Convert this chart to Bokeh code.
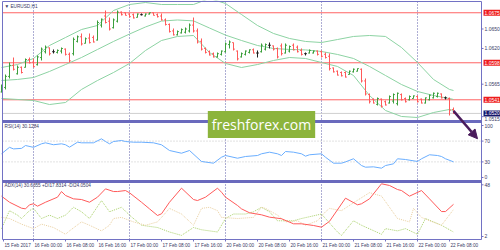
from bokeh.plotting import figure
from bokeh.models import Range1d, Label, Arrow, NormalHead, ColumnDataSource
from bokeh.embed import file_html
from bokeh.resources import INLINE

# ---------------- data ----------------
symbol_title = "\u25bc EURUSD,H1"
rsi_title = "RSI(14) 30.1284"
adx_title = "ADX(14) 30.6355 +DI17.8314 -DI24.0504"
watermark = "freshforex.com"

x_tick_idx = [0.5, 8, 16, 24, 32, 40, 48, 56, 64, 72, 80, 88, 96, 104, 112]
x_tick_labels = ["15 Feb 2017", "16 Feb 00:00", "16 Feb 08:00", "16 Feb 16:00", "17 Feb 00:00",
                 "17 Feb 08:00", "17 Feb 16:00", "20 Feb 00:00", "20 Feb 08:00", "20 Feb 16:00",
                 "21 Feb 00:00", "21 Feb 08:00", "21 Feb 16:00", "22 Feb 00:00", "22 Feb 08:00"]
day_separators = [8, 32, 56, 80, 104]

opens = [1.0553, 1.0560, 1.0577, 1.0594, 1.0581, 1.0591, 1.0591, 1.0603, 1.0599, 1.0595,
         1.0606, 1.0615, 1.0621, 1.0615, 1.0614, 1.0616, 1.0619, 1.0611, 1.0612, 1.0631,
         1.0638, 1.0628, 1.0636, 1.0637, 1.0633, 1.0656, 1.0670, 1.0662, 1.0652, 1.0662,
         1.0676, 1.0675, 1.0673, 1.0672, 1.0668, 1.0672, 1.0670, 1.0673, 1.0675, 1.0672,
         1.0670, 1.0664, 1.0657, 1.0647, 1.0641, 1.0644, 1.0645, 1.0647, 1.0656, 1.0647,
         1.0631, 1.0620, 1.0615, 1.0612, 1.0607, 1.0611, 1.0615, 1.0626, 1.0629, 1.0616,
         1.0607, 1.0611, 1.0614, 1.0618, 1.0613, 1.0615, 1.0619, 1.0625, 1.0624, 1.0620,
         1.0624, 1.0613, 1.0616, 1.0625, 1.0622, 1.0617, 1.0612, 1.0613, 1.0613, 1.0616,
         1.0615, 1.0611, 1.0608, 1.0590, 1.0585, 1.0583, 1.0583, 1.0580, 1.0584, 1.0585,
         1.0588, 1.0570, 1.0549, 1.0542, 1.0534, 1.0542, 1.0538, 1.0536, 1.0539, 1.0535,
         1.0549, 1.0543, 1.0541, 1.0543, 1.0546, 1.0542, 1.0536, 1.0541, 1.0544, 1.0546,
         1.0550, 1.0544, 1.0543, 1.0526]
highs = [1.05645, 1.05799, 1.05984, 1.06061, 1.05938, 1.05923, 1.06046, 1.06061, 1.06046, 1.06092,
         1.06215, 1.06246, 1.06215, 1.06185, 1.06185, 1.06215, 1.06200, 1.06138, 1.06369, 1.06400,
         1.06431, 1.06369, 1.06431, 1.06400, 1.06631, 1.06662, 1.06785, 1.06677, 1.06662, 1.06785,
         1.06770, 1.06754, 1.06739, 1.06739, 1.06739, 1.06739, 1.06739, 1.06754, 1.06754, 1.06739,
         1.06739, 1.06662, 1.06585, 1.06508, 1.06477, 1.06508, 1.06523, 1.06585, 1.06677, 1.06508,
         1.06354, 1.06215, 1.06169, 1.06138, 1.06138, 1.06169, 1.06292, 1.06323, 1.06292, 1.06169,
         1.06138, 1.06169, 1.06185, 1.06200, 1.06169, 1.06277, 1.06277, 1.06292, 1.06246, 1.06215,
         1.06277, 1.06277, 1.06246, 1.06277, 1.06246, 1.06200, 1.06138, 1.06185, 1.06169, 1.06169,
         1.06169, 1.06138, 1.06123, 1.05907, 1.05861, 1.05846, 1.05846, 1.05861, 1.05892, 1.05892,
         1.05892, 1.05738, 1.05507, 1.05430, 1.05445, 1.05430, 1.05399, 1.05476, 1.05507, 1.05522,
         1.05507, 1.05445, 1.05476, 1.05476, 1.05476, 1.05430, 1.05445, 1.05491, 1.05522, 1.05522,
         1.05507, 1.05461, 1.05445, 1.05291]
lows = [1.05522, 1.05569, 1.05738, 1.05861, 1.05799, 1.05815, 1.05907, 1.05969, 1.05907, 1.05938,
        1.06015, 1.06123, 1.06092, 1.06123, 1.06123, 1.06123, 1.06092, 1.05984, 1.06092, 1.06292,
        1.06246, 1.06277, 1.06277, 1.06292, 1.06323, 1.06523, 1.06585, 1.06477, 1.06508, 1.06600,
        1.06708, 1.06708, 1.06677, 1.06662, 1.06677, 1.06708, 1.06693, 1.06723, 1.06708, 1.06677,
        1.06631, 1.06554, 1.06446, 1.06400, 1.06400, 1.06431, 1.06431, 1.06446, 1.06446, 1.06277,
        1.06169, 1.06123, 1.06092, 1.06061, 1.06061, 1.06092, 1.06138, 1.06200, 1.06169, 1.06015,
        1.06061, 1.06092, 1.06123, 1.06123, 1.06061, 1.06138, 1.06169, 1.06200, 1.06169, 1.06046,
        1.06092, 1.06123, 1.06138, 1.06169, 1.06138, 1.06092, 1.06092, 1.06123, 1.06123, 1.06092,
        1.06061, 1.06046, 1.05861, 1.05830, 1.05784, 1.05769, 1.05753, 1.05799, 1.05830, 1.05846,
        1.05676, 1.05476, 1.05353, 1.05353, 1.05322, 1.05291, 1.05322, 1.05353, 1.05353, 1.05322,
        1.05399, 1.05368, 1.05399, 1.05430, 1.05368, 1.05353, 1.05353, 1.05399, 1.05430, 1.05445,
        1.05430, 1.05415, 1.05168, 1.05195]
closes = [1.0562, 1.0577, 1.0594, 1.0588, 1.0591, 1.0583, 1.0603, 1.0598, 1.0592, 1.0607,
          1.0619, 1.0622, 1.0612, 1.0615, 1.0617, 1.0620, 1.0611, 1.0601, 1.0634, 1.0638,
          1.0627, 1.0635, 1.0629, 1.0630, 1.0660, 1.0665, 1.0660, 1.0650, 1.0664, 1.0676,
          1.0672, 1.0671, 1.0669, 1.0667, 1.0673, 1.0672, 1.0673, 1.0675, 1.0671, 1.0669,
          1.0664, 1.0657, 1.0646, 1.0641, 1.0646, 1.0649, 1.0650, 1.0656, 1.0647, 1.0630,
          1.0619, 1.0614, 1.0610, 1.0607, 1.0612, 1.0616, 1.0627, 1.0630, 1.0619, 1.0604,
          1.0612, 1.0616, 1.0618, 1.0613, 1.0613, 1.0625, 1.0626, 1.0625, 1.0619, 1.0607,
          1.0612, 1.0625, 1.0623, 1.0618, 1.0615, 1.0611, 1.0612, 1.0617, 1.0616, 1.0611,
          1.0608, 1.0606, 1.0589, 1.0584, 1.0579, 1.0578, 1.0576, 1.0585, 1.0588, 1.0589,
          1.0570, 1.0550, 1.0538, 1.0536, 1.0543, 1.0531, 1.0533, 1.0546, 1.0549, 1.0551,
          1.0541, 1.0538, 1.0546, 1.0547, 1.0538, 1.0536, 1.0544, 1.0548, 1.0551, 1.0551,
          1.0544, 1.0544, 1.0525, 1.0520]

bb_idx = [0, 4, 8, 12, 16, 20, 24, 28, 32, 36, 40, 44, 48, 52, 56, 60, 64, 68, 72, 76,
          80, 84, 88, 92, 96, 100, 104, 108, 112, 113]
bb_upper = [1.05907, 1.05953, 1.06046, 1.06246, 1.06369, 1.06492, 1.06554, 1.06785, 1.06877, 1.06908,
            1.06877, 1.06877, 1.06877, 1.06970, 1.06893, 1.06723, 1.06554, 1.06431, 1.06354, 1.06308,
            1.06292, 1.06338, 1.06385, 1.06400, 1.06385, 1.06215, 1.05984, 1.05723, 1.05569, 1.05553]
bb_middle = [1.05707, 1.05723, 1.05753, 1.05846, 1.05953, 1.06061, 1.06185, 1.06308, 1.06422, 1.06531,
             1.06622, 1.06639, 1.06625, 1.06515, 1.06406, 1.06323, 1.06246, 1.06200, 1.06185, 1.06178,
             1.06154, 1.06108, 1.06046, 1.05923, 1.05784, 1.05645, 1.05538, 1.05476, 1.05430, 1.05415]
bb_lower = [1.05430, 1.05415, 1.05399, 1.05337, 1.05368, 1.05569, 1.05707, 1.05830, 1.05969, 1.06169,
            1.06323, 1.06385, 1.06400, 1.06138, 1.05969, 1.05907, 1.05953, 1.06015, 1.06061, 1.06046,
            1.05984, 1.05923, 1.05784, 1.05476, 1.05245, 1.05153, 1.05137, 1.05214, 1.05261, 1.05245]

rsi_idx = [0, 2, 3, 5, 6, 8, 10, 11, 13, 15, 16, 17, 19, 20, 23, 25, 26, 27, 28, 30,
           31, 33, 35, 38, 40, 42, 45, 47, 50, 53, 55, 56, 59, 61, 64, 65, 67, 69, 70, 71,
           73, 75, 76, 77, 80, 81, 83, 85, 86, 88, 90, 91, 93, 95, 96, 98, 99, 101, 104, 105,
           107, 109, 110, 111, 113]
rsi_vals = [45.6, 58.0, 55.0, 56.0, 61.5, 58.0, 64.8, 66.7, 63.0, 64.8, 63.0, 58.3, 67.9, 66.7, 66.7,
            74.4, 69.2, 64.8, 69.2, 71.2, 69.2, 67.9, 67.9, 66.7, 62.9, 51.9, 46.7, 51.9, 30.8, 27.5,
            39.0, 42.3, 37.1, 40.4, 42.3, 45.6, 48.7, 45.6, 42.3, 50.0, 48.7, 45.6, 41.0, 43.7, 45.6,
            39.0, 27.5, 27.5, 30.0, 36.0, 23.0, 19.8, 20.5, 17.9, 23.0, 26.3, 36.0, 34.6, 30.8, 36.0,
            43.7, 42.3, 40.4, 36.0, 30.13]

adx_idx = [0, 2, 5, 6, 7, 8, 9, 11, 14, 15, 16, 18, 20, 22, 24, 26, 28, 29, 31, 32,
           35, 37, 39, 40, 42, 45, 48, 49, 51, 54, 55, 56, 59, 60, 62, 65, 67, 70, 73, 75,
           78, 80, 82, 86, 89, 90, 92, 95, 97, 99, 100, 102, 105, 107, 110, 111, 113]
adx_vals = [37.9, 32.5, 27.2, 26.6, 30.2, 31.1, 29.0, 32.5, 37.0, 42.0, 38.5, 35.5, 34.9, 32.5, 37.0,
            44.4, 42.0, 42.0, 42.9, 40.9, 32.5, 26.6, 20.7, 22.2, 32.5, 45.0, 34.9, 34.0, 37.0, 45.0,
            41.4, 37.0, 29.6, 26.6, 23.1, 21.3, 19.2, 17.8, 13.3, 13.3, 11.8, 10.3, 15.5, 36.1, 30.2,
            31.1, 35.5, 48.9, 47.4, 43.8, 42.9, 37.9, 42.9, 35.5, 24.2, 24.2, 30.64]

pdi_idx = [0, 2, 4, 5, 7, 8, 10, 12, 14, 16, 18, 20, 22, 25, 27, 30, 32, 35, 39, 42,
           45, 48, 50, 52, 54, 56, 58, 61, 63, 65, 67, 69, 73, 75, 80, 82, 84, 85, 88, 90,
           95, 96, 99, 101, 104, 106, 110, 113]
pdi_vals = [9, 25, 21, 18, 25, 27, 18, 21, 18, 21, 28, 24, 18, 34, 24, 28, 21, 12, 10, 6,
            3, 10, 8, 7, 6, 18, 22, 22, 24, 28, 24, 16, 16, 18, 22, 14, 6, 3, 16, 12,
            4, 9, 7, 9, 4, 18, 12, 6]
mdi_idx = [0, 2, 5, 8, 10, 13, 16, 17, 20, 22, 25, 27, 28, 30, 33, 36, 39, 42, 45, 48,
           50, 52, 54, 55, 59, 63, 65, 66, 69, 71, 74, 76, 79, 81, 82, 85, 88, 92, 95, 99,
           102, 103, 105, 107, 110, 113]
mdi_vals = [19, 18, 13, 9, 13, 10, 4, 7, 15, 12, 7, 12, 18, 19, 15, 12, 15, 27, 22, 12,
            27, 28, 25, 19, 18, 19, 28, 27, 21, 15, 16, 12, 16, 24, 27, 25, 32, 41, 38, 18,
            15, 27, 19, 16, 12, 26]

price_ticks = [1.0650, 1.0620, 1.0565, 1.0515]
price_tick_labels = ["1.0650", "1.0620", "1.0565", "1.0515"]
level_prices = [1.0675, 1.0598, 1.0541]
level_labels = ["1.0675", "1.0598", "1.0541"]
bid_price = 1.0520
bid_label = "1.0520"
rsi_levels = [70, 30]
rsi_ticks = [100, 70, 30, 0]
rsi_tick_labels = ["100", "70", "30", "0"]
adx_ticks = [48, 2]
adx_tick_labels = ["48", "2"]
arrow_idx = [113, 119]
arrow_price = [1.0524, 1.0481]

# ---------------- layout (pixels) ----------------
W, H = 500, 250
FL, FR, FT, FB = 2, 481, 1, 239          # chart box (left, right axis line, top, bottom axis line)
BAR_X0, BAR_STEP = 1.0, 4.0              # pixel of bar 0 and bar spacing
MAIN_ROWS, MAIN_VALS = (2, 120), (1.06908, 1.05091)
RSI_ROWS, RSI_VALS = (122, 180), (105.8, -5.8)
ADX_ROWS, ADX_VALS = (182, 239), (50.05, -0.67)
SEP_ROWS = [121, 181]

FRAME_C = "#7272c4"
SEP_C = "#6a6abd"
TEXT_C = "#3a3a66"
UP_C, DOWN_C, DOJI_C = "#3c9f3c", "#ff5a5a", "#202020"
BB_C = "#8dd3a3"
LEVEL_C = "#ff6464"
RSI_C = "#6aaeff"
ADX_C = "#ff5a5a"
PDI_C = "#a9d06a"
MDI_C = "#e9cfa0"
DAY_C = "#5c5ca8"
AR_C = "#4a1c5c"
SMALL = "4.7px"
FONT = "Liberation Sans"


def x_at_px(px):
    return (px - BAR_X0) / BAR_STEP


def val_at_row(row, rows, vals):
    (r0, r1), (v0, v1) = rows, vals
    return v0 - (row - r0) * (v0 - v1) / (r1 - r0)


def main_at_row(row):
    return val_at_row(row, MAIN_ROWS, MAIN_VALS)


def pane_range(rows, vals):
    return Range1d(val_at_row(H, rows, vals), val_at_row(0, rows, vals))


p = figure(width=W, height=H, x_range=Range1d(x_at_px(0), x_at_px(W)),
           y_range=pane_range(MAIN_ROWS, MAIN_VALS),
           output_backend="svg", toolbar_location=None,
           x_axis_location=None, y_axis_location=None,
           min_border=0, min_border_left=0, min_border_right=0, min_border_top=0, min_border_bottom=0,
           background_fill_color="white", border_fill_color="white", outline_line_color=None)
p.extra_y_ranges = {"rsi": pane_range(RSI_ROWS, RSI_VALS), "adx": pane_range(ADX_ROWS, ADX_VALS)}
p.grid.visible = False


def px_segs(x0s, r0s, x1s, r1s, **kw):
    p.segment([x_at_px(v) for v in x0s], [main_at_row(v) for v in r0s],
              [x_at_px(v) for v in x1s], [main_at_row(v) for v in r1s], **kw)


# day separators (dotted, full chart height)
p.segment(day_separators, [main_at_row(FT)] * len(day_separators),
          day_separators, [main_at_row(FB)] * len(day_separators),
          line_color=DAY_C, line_dash="1 2", line_width=1)

# horizontal levels across the chart box
n = len(level_prices)
p.segment([x_at_px(FL)] * n, level_prices, [x_at_px(FR)] * n, level_prices, line_color=LEVEL_C, line_width=1)
p.segment([x_at_px(FL)], [bid_price], [x_at_px(FR)], [bid_price], line_color="#cfcfcf", line_width=1)

# Bollinger bands
for arr in (bb_upper, bb_middle, bb_lower):
    p.line(bb_idx, arr, line_color=BB_C, line_width=1)

# OHLC bars
idx = list(range(len(opens)))
cols = [UP_C if c > o else (DOWN_C if c < o else DOJI_C) for o, c in zip(opens, closes)]
src = ColumnDataSource(dict(x=idx, xl=[i - 0.35 for i in idx], xr=[i + 0.35 for i in idx],
                            o=opens, h=highs, l=lows, c=closes, col=cols))
p.segment("x", "h", "x", "l", line_color="col", line_width=1, source=src)
p.segment("xl", "o", "x", "o", line_color="col", line_width=1, source=src)
p.segment("x", "c", "xr", "c", line_color="col", line_width=1, source=src)

# RSI pane
m = len(rsi_levels)
p.segment([x_at_px(FL)] * m, rsi_levels, [x_at_px(FR)] * m, rsi_levels, y_range_name="rsi",
          line_color="#c4c4c4", line_dash="1 2", line_width=1)
p.line(rsi_idx, rsi_vals, y_range_name="rsi", line_color=RSI_C, line_width=1)

# ADX pane
p.line(pdi_idx, pdi_vals, y_range_name="adx", line_color=PDI_C, line_dash="1 1", line_width=1)
p.line(mdi_idx, mdi_vals, y_range_name="adx", line_color=MDI_C, line_dash="1 1", line_width=1)
p.line(adx_idx, adx_vals, y_range_name="adx", line_color=ADX_C, line_width=1)

# white strip above the chart box hides anything that leaves the top of the price pane
p.quad(left=[x_at_px(0)], right=[x_at_px(W)], top=[main_at_row(0)], bottom=[main_at_row(FT)],
       fill_color="white", line_color=None)

# chart box: left, top, right axis line, bottom axis line
px_segs([FL, FL, FR, FL], [FT, FT, FT, FB], [FL, FR, FR, FR], [FB, FT, FB, FB], line_color=FRAME_C, line_width=1)
# pane separators
px_segs([FL] * len(SEP_ROWS), SEP_ROWS, [FR] * len(SEP_ROWS), SEP_ROWS, line_color=SEP_C, line_width=3)

# right-axis tick marks
tick_x0, tick_x1 = x_at_px(FR), x_at_px(FR + 2)
p.segment([tick_x0] * len(price_ticks), price_ticks, [tick_x1] * len(price_ticks), price_ticks, line_color=FRAME_C)
p.segment([tick_x0] * len(rsi_ticks), rsi_ticks, [tick_x1] * len(rsi_ticks), rsi_ticks, y_range_name="rsi", line_color=FRAME_C)
p.segment([tick_x0] * len(adx_ticks), adx_ticks, [tick_x1] * len(adx_ticks), adx_ticks, y_range_name="adx", line_color=FRAME_C)
# bottom-axis tick marks
p.segment(x_tick_idx, [main_at_row(FB)] * len(x_tick_idx), x_tick_idx, [main_at_row(FB + 2)] * len(x_tick_idx),
          line_color=FRAME_C)

# forecast arrow
p.add_layout(Arrow(x_start=arrow_idx[0], y_start=arrow_price[0], x_end=arrow_idx[1], y_end=arrow_price[1],
                   line_color=AR_C, line_width=2.5,
                   end=NormalHead(size=9, fill_color=AR_C, line_color=AR_C)))

# right-axis labels (the lowest price label peeks out below the bid box, as in MT4)
lab_x = x_at_px(FR + 3)
for t, lab in zip(price_ticks, price_tick_labels):
    p.add_layout(Label(x=lab_x, y=t, text=lab, text_font=FONT, text_font_size="5px",
                       text_color=TEXT_C, text_baseline="middle",
                       y_offset=(-2 if t == min(price_ticks) else 0)))
for t, lab in zip(rsi_ticks, rsi_tick_labels):
    p.add_layout(Label(x=lab_x, y=t, y_range_name="rsi", text=lab, text_font=FONT, text_font_size="5px",
                       text_color=TEXT_C, text_baseline="middle"))
for t, lab in zip(adx_ticks, adx_tick_labels):
    p.add_layout(Label(x=lab_x, y=t, y_range_name="adx", text=lab, text_font=FONT, text_font_size="5px",
                       text_color=TEXT_C, text_baseline="middle"))

# price boxes on the axis
box_x = x_at_px(FR + 2)
for lv, lab in zip(level_prices, level_labels):
    p.add_layout(Label(x=box_x, y=lv, text=lab, text_font=FONT, text_font_size="5px",
                       text_color="white", text_baseline="middle", background_fill_color="#ee1c1c",
                       padding=1))
p.add_layout(Label(x=box_x, y=bid_price, text=bid_label, text_font=FONT, text_font_size="5px",
                   text_color="white", text_baseline="middle", background_fill_color="#16166a", padding=1))

# bottom-axis labels (left aligned at their tick)
for t, lab in zip(x_tick_idx, x_tick_labels):
    p.add_layout(Label(x=t, y=main_at_row(244.5), text=lab, text_font=FONT, text_font_size=SMALL,
                       text_color=TEXT_C, text_baseline="middle", text_align="left", x_offset=1))

# pane titles
for txt, row in ((symbol_title, 6), (rsi_title, 126), (adx_title, 185)):
    p.add_layout(Label(x=x_at_px(4), y=main_at_row(row), text=txt, text_font=FONT,
                       text_font_size=SMALL, text_color=TEXT_C, text_baseline="middle"))

# watermark
p.add_layout(Label(x=x_at_px(261), y=main_at_row(124), text=watermark, text_font="Open Sans",
                   text_font_size="14px", text_color="white", text_align="center", text_baseline="middle",
                   background_fill_color="#8cb43c", padding=4))

open("out.html", "w").write(file_html(p, INLINE))
